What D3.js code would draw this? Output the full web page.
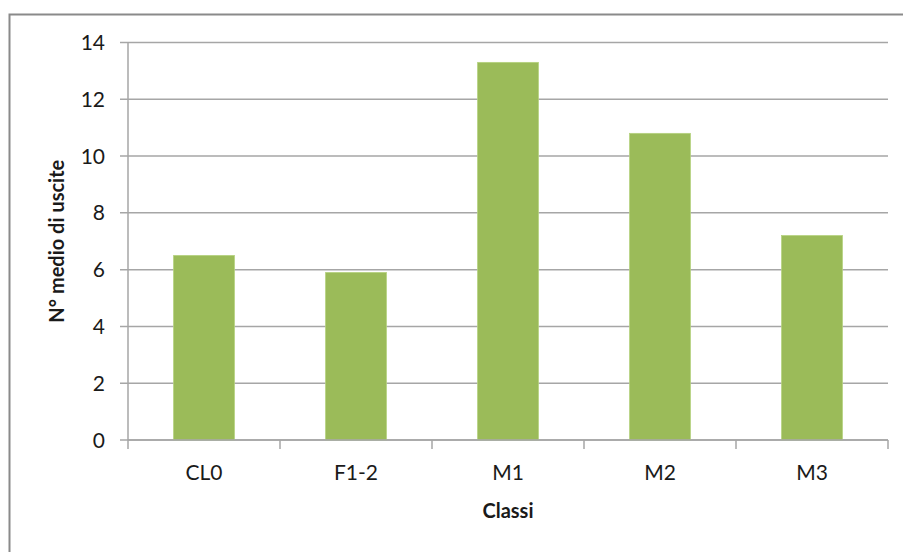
<!DOCTYPE html>
<html>
<head>
<meta charset="utf-8">
<script src="https://cdn.jsdelivr.net/npm/d3@7"></script>
<style>
  html, body { margin: 0; padding: 0; background: #ffffff; }
  svg { display: block; }
</style>
</head>
<body>
<svg id="chart" width="903" height="552"></svg>
<script>
// Mean number of outings per class
const categories = ["CL0", "F1-2", "M1", "M2", "M3"];
const values = [6.5, 5.9, 13.3, 10.8, 7.2];
const yTicks = [0, 2, 4, 6, 8, 10, 12, 14];
const xTitle = "Classi";
const yTitle = "N° medio di uscite";

const svg = d3.select("#chart");
const W = 903, H = 552;
const plot = { left: 128, right: 888, top: 42.5, bottom: 440 };
const font = "Lato, 'Open Sans', sans-serif";
const textColor = "#1a1a1a";

// Outer chart-area frame (open on the right and bottom edges)
svg.append("path")
  .attr("d", `M9.5,${H} L9.5,14.5 L${W},14.5`)
  .attr("fill", "none")
  .attr("stroke", "#8a8a8a")
  .attr("stroke-width", 2);

const x = d3.scaleBand()
  .domain(categories)
  .range([plot.left, plot.right])
  .paddingInner(0.6)
  .paddingOuter(0.3);

const y = d3.scaleLinear()
  .domain([0, 14])
  .range([plot.bottom, plot.top]);

// Horizontal gridlines
svg.append("g")
  .selectAll("line")
  .data(yTicks)
  .join("line")
  .attr("x1", plot.left - 8)
  .attr("x2", plot.right)
  .attr("y1", d => y(d))
  .attr("y2", d => y(d))
  .attr("stroke", "#a6a6a6")
  .attr("stroke-width", 1.5);

// Y axis line
svg.append("line")
  .attr("x1", plot.left).attr("x2", plot.left)
  .attr("y1", plot.top).attr("y2", plot.bottom)
  .attr("stroke", "#a6a6a6")
  .attr("stroke-width", 1.5);

// Y tick labels
svg.append("g")
  .selectAll("text")
  .data(yTicks)
  .join("text")
  .attr("x", 105)
  .attr("y", d => y(d))
  .attr("dy", "0.36em")
  .attr("text-anchor", "end")
  .attr("font-family", font)
  .attr("font-size", 21)
  .attr("fill", textColor)
  .text(d => d);

// Bars
svg.append("g")
  .selectAll("rect")
  .data(categories.map((c, i) => ({ c, v: values[i] })))
  .join("rect")
  .attr("x", d => x(d.c))
  .attr("width", x.bandwidth())
  .attr("y", d => y(d.v))
  .attr("height", d => y(0) - y(d.v))
  .attr("fill", "#9bbb59")
  .attr("stroke", "#b5d17e")
  .attr("stroke-width", 0.8);

// X axis line and category boundary ticks
const step = (plot.right - plot.left) / categories.length;
svg.append("line")
  .attr("x1", plot.left).attr("x2", plot.right)
  .attr("y1", plot.bottom).attr("y2", plot.bottom)
  .attr("stroke", "#a6a6a6")
  .attr("stroke-width", 1.5);
svg.append("g")
  .selectAll("line")
  .data(d3.range(categories.length + 1))
  .join("line")
  .attr("x1", i => plot.left + i * step)
  .attr("x2", i => plot.left + i * step)
  .attr("y1", plot.bottom)
  .attr("y2", plot.bottom + 9)
  .attr("stroke", "#a6a6a6")
  .attr("stroke-width", 1.5);

// X category labels
svg.append("g")
  .selectAll("text")
  .data(categories)
  .join("text")
  .attr("x", d => x(d) + x.bandwidth() / 2)
  .attr("y", 472)
  .attr("dy", "0.36em")
  .attr("text-anchor", "middle")
  .attr("font-family", font)
  .attr("font-size", 21)
  .attr("fill", textColor)
  .text(d => d);

// Axis titles
svg.append("text")
  .attr("x", (plot.left + plot.right) / 2)
  .attr("y", 511)
  .attr("dy", "0.36em")
  .attr("text-anchor", "middle")
  .attr("font-family", font)
  .attr("font-weight", "bold")
  .attr("font-size", 20)
  .attr("fill", textColor)
  .text(xTitle);

svg.append("text")
  .attr("transform", `translate(57,${(plot.top + plot.bottom) / 2}) rotate(-90)`)
  .attr("dy", "0.36em")
  .attr("text-anchor", "middle")
  .attr("font-family", font)
  .attr("font-weight", "bold")
  .attr("font-size", 20)
  .attr("fill", textColor)
  .text(yTitle);
</script>
</body>
</html>
